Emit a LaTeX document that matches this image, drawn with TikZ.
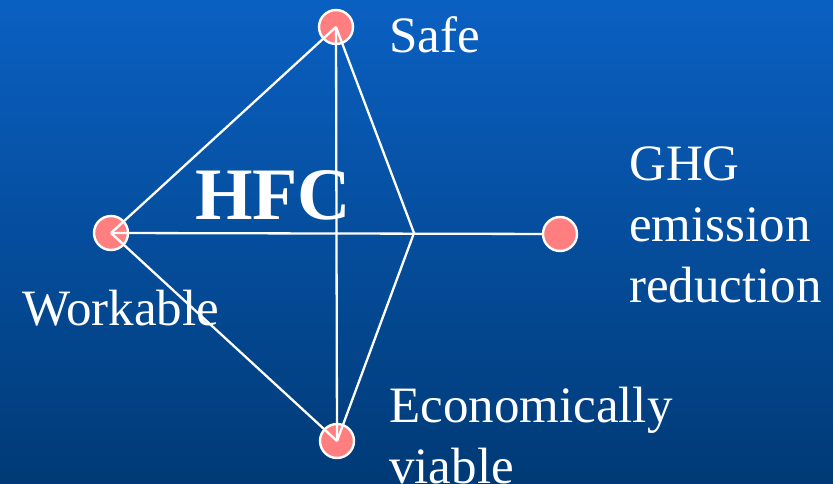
\documentclass[tikz,border=0pt]{standalone}
\usepackage{fontspec}
\setmainfont{Liberation Serif}
\definecolor{bgtop}{RGB}{10,96,194}
\definecolor{bgbot}{RGB}{0,58,118}
\definecolor{dotpink}{RGB}{255,127,128}
\tikzset{
  dot/.style={circle, minimum size=34pt, inner sep=0pt, fill=dotpink, draw=white, line width=2.4pt},
  link/.style={draw=white, line width=2.3pt},
  lbl/.style={text=white, inner sep=0pt, anchor=base west, font=\fontsize{51}{61}\selectfont, align=left},
  junction/.style={coordinate}
}
\begin{document}
\begin{tikzpicture}[x=1pt,y=-1pt]
\useasboundingbox (0,0) rectangle (833,484);
\shade[top color=bgtop, bottom color=bgbot] (0,0) rectangle (833,484);
\node[dot] (S) at (336,27) {};
\node[dot] (W) at (111,233) {};
\node[dot] (E) at (337,441) {};
\coordinate (J) at (414,233);
\path[link] (W.center) -- (S.center);
\path[link] (W.center) -- (E.center);
\path[link] (S.center) -- (E.center);
\path[link] (S.center) -- (J) -- (E.center);
\node[dot] (G) at (560,234) {};
\path[link] (W.center) -- (G);
\node[lbl] (tS) at (389,53) {Safe};
\node[lbl] (tW) at (22,325) {Workable};
\node[lbl] (tG) at (629,302) {GHG\\emission\\reduction};
\node[lbl] (tE) at (389,483) {Economically\\viable};
\node[lbl, font=\fontsize{74}{80}\selectfont\bfseries] (tH) at (195,219) {HFC};
\end{tikzpicture}
\end{document}
